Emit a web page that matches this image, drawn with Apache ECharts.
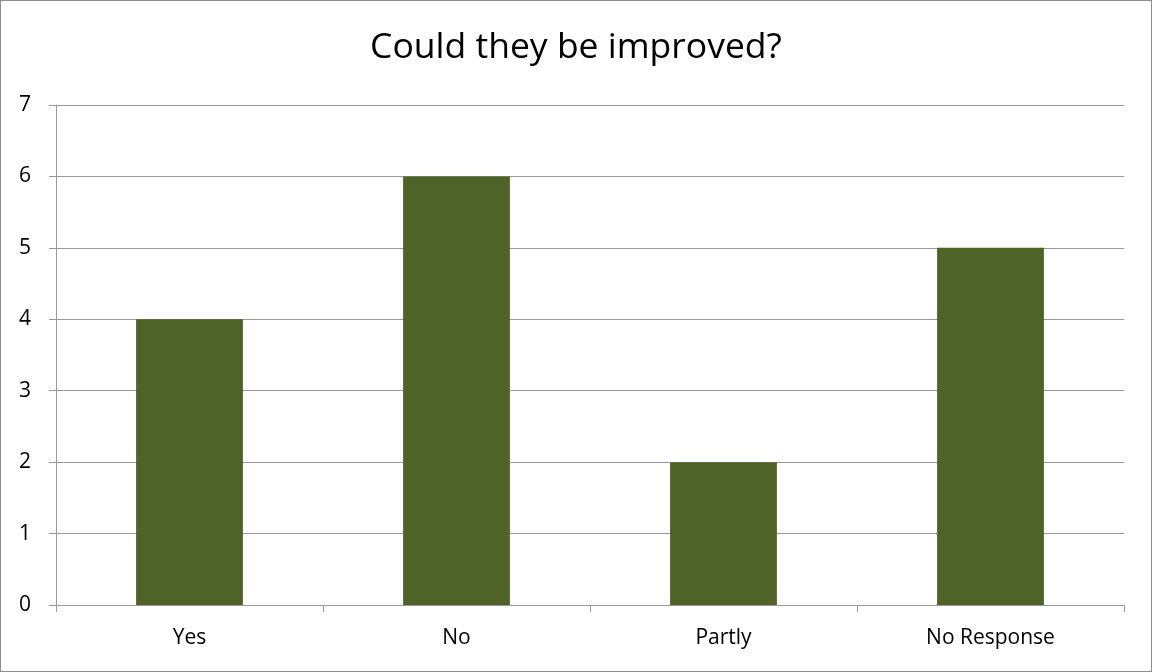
<!DOCTYPE html>
<html><head><meta charset="utf-8">
<script src="https://cdn.jsdelivr.net/npm/echarts@6/dist/echarts.min.js"></script>
<style>html,body{margin:0;padding:0;background:#fff}#c{width:1152px;height:672px;box-sizing:border-box;border:1px solid #8c8c8c}</style>
</head><body><div id="c"></div>
<script>
const categories = ['Yes', 'No', 'Partly', 'No Response'];
const values = [4, 6, 2, 5];
const yTicks = [0, 1, 2, 3, 4, 5, 6, 7];

const chart = echarts.init(document.getElementById('c'));
const font = 'Open Sans, sans-serif';
chart.setOption({
  animation: false,
  title: {
    text: 'Could they be improved?', left: 'center', top: 24,
    textStyle: { fontFamily: font, fontSize: 35.5, fontWeight: 'normal', color: '#000' }
  },
  grid: { left: 55, right: 27, top: 104, bottom: 66 },
  xAxis: {
    type: 'category', data: categories,
    axisLine: { lineStyle: { color: '#999', width: 1 } },
    axisTick: { show: true, length: 7, lineStyle: { color: '#999' } },
    axisLabel: { fontFamily: font, fontSize: 21, color: '#000', margin: 23 }
  },
  yAxis: {
    type: 'value', min: yTicks[0], max: yTicks[yTicks.length - 1], interval: 1,
    axisLine: { show: true, lineStyle: { color: '#999', width: 1 } },
    axisTick: { show: true, length: 7, lineStyle: { color: '#999' } },
    splitLine: { lineStyle: { color: '#999', width: 1 } },
    axisLabel: { fontFamily: font, fontSize: 21, color: '#000', margin: 25 }
  },
  series: [{
    type: 'bar', data: values, barWidth: '40%',
    itemStyle: { color: '#4F6228' }
  }]
});
</script></body></html>
